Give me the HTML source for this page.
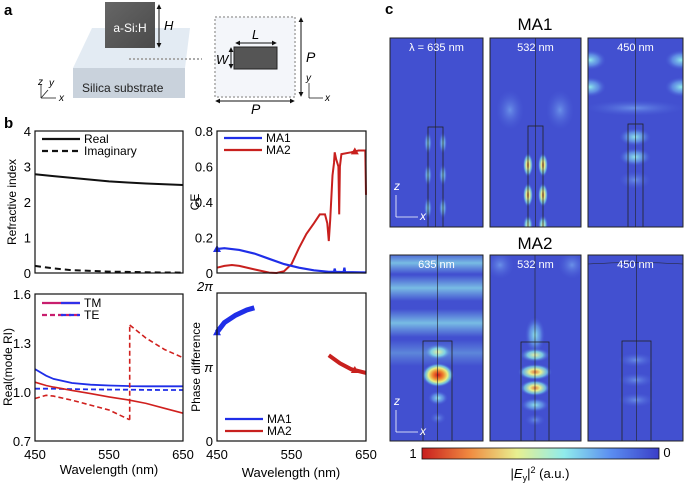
<!DOCTYPE html>
<html><head><meta charset="utf-8"><style>
html,body{margin:0;padding:0;background:#fff;width:685px;height:485px;overflow:hidden}
svg{display:block;font-family:"Liberation Sans",Arial,sans-serif}
</style></head><body>
<svg id="fig" width="685" height="485" viewBox="0 0 685 485">
<defs>
<radialGradient id="gHot"><stop offset="0" stop-color="#d0181c"/><stop offset="0.35" stop-color="#f08a30"/><stop offset="0.6" stop-color="#e8f080"/><stop offset="0.8" stop-color="#7fe6e6" stop-opacity="0.7"/><stop offset="1" stop-color="#4a5ed8" stop-opacity="0"/></radialGradient>
<radialGradient id="gMid"><stop offset="0" stop-color="#e87a3a"/><stop offset="0.35" stop-color="#e8f090"/><stop offset="0.7" stop-color="#80e0e8" stop-opacity="0.7"/><stop offset="1" stop-color="#4a5ed8" stop-opacity="0"/></radialGradient>
<radialGradient id="gWarm"><stop offset="0" stop-color="#e8f0a0"/><stop offset="0.5" stop-color="#88e6e6" stop-opacity="0.8"/><stop offset="1" stop-color="#4a5ed8" stop-opacity="0"/></radialGradient>
<radialGradient id="gCool"><stop offset="0" stop-color="#90e8ec"/><stop offset="0.55" stop-color="#70b0ee" stop-opacity="0.6"/><stop offset="1" stop-color="#4a5ed8" stop-opacity="0"/></radialGradient>
<radialGradient id="gFaint"><stop offset="0" stop-color="#6a90e8"/><stop offset="1" stop-color="#4a5ed8" stop-opacity="0"/></radialGradient>
<linearGradient id="gBand" x1="0" y1="0" x2="0" y2="1"><stop offset="0" stop-color="#8ad8ee" stop-opacity="0"/><stop offset="0.5" stop-color="#8ae0ea" stop-opacity="0.75"/><stop offset="1" stop-color="#8ad8ee" stop-opacity="0"/></linearGradient>
<linearGradient id="gCbar" x1="0" y1="0" x2="1" y2="0"><stop offset="0" stop-color="#c81e1e"/><stop offset="0.2" stop-color="#f08a40"/><stop offset="0.4" stop-color="#e8f090"/><stop offset="0.6" stop-color="#90ecec"/><stop offset="0.8" stop-color="#5a8cf0"/><stop offset="1" stop-color="#3a3ec8"/></linearGradient>
<linearGradient id="gCube" x1="0" y1="0" x2="1" y2="1"><stop offset="0" stop-color="#666"/><stop offset="1" stop-color="#4a4a4a"/></linearGradient>
<marker id="ah" viewBox="0 0 6 6" refX="5" refY="3" markerWidth="5" markerHeight="5" orient="auto-start-reverse"><path d="M0,0L6,3L0,6z" fill="#111"/></marker>
</defs>

<g>
<text x="4" y="15" font-size="15" font-weight="bold">a</text>
<path d="M73,68 L185,68 L185,98 L73,98 Z" fill="#c9d2dc"/>
<path d="M73,68 L92,28 L190,28 L185,68 Z" fill="#e3ebf3"/>
<rect x="105" y="2" width="50" height="46" fill="url(#gCube)"/>
<text x="130" y="32" font-size="12" fill="#fff" text-anchor="middle">a-Si:H</text>
<line x1="159" y1="5" x2="159" y2="47" stroke="#111" stroke-width="1" marker-start="url(#ah)" marker-end="url(#ah)"/>
<text x="164" y="30" font-size="13" font-style="italic">H</text>
<text x="82" y="92" font-size="12" fill="#222">Silica substrate</text>
<line x1="129" y1="59" x2="202" y2="59" stroke="#aaa" stroke-width="2" stroke-dasharray="2,2"/>
<g stroke="#222" stroke-width="0.8" fill="none">
<line x1="41" y1="98" x2="41" y2="84"/><line x1="41" y1="98" x2="56" y2="98"/><line x1="41" y1="98" x2="48" y2="90"/></g>
<text x="38" y="85" font-size="10" font-style="italic">z</text><text x="49" y="86" font-size="10" font-style="italic">y</text><text x="59" y="101" font-size="10" font-style="italic">x</text>
<rect x="215" y="17" width="80" height="80" fill="#f4f6fa" stroke="#bbb" stroke-width="2" stroke-dasharray="2,2"/>
<rect x="234" y="47" width="43" height="22" fill="#555" stroke="#222"/>
<line x1="236" y1="43" x2="276" y2="43" stroke="#111" marker-start="url(#ah)" marker-end="url(#ah)"/>
<text x="252" y="39" font-size="13" font-style="italic">L</text>
<line x1="231" y1="48" x2="231" y2="68" stroke="#111" marker-start="url(#ah)" marker-end="url(#ah)"/>
<text x="216" y="64" font-size="13" font-style="italic">W</text>
<line x1="301" y1="18" x2="301" y2="96" stroke="#111" marker-start="url(#ah)" marker-end="url(#ah)"/>
<text x="306" y="62" font-size="14" font-style="italic">P</text>
<line x1="216" y1="101" x2="294" y2="101" stroke="#111" marker-start="url(#ah)" marker-end="url(#ah)"/>
<text x="251" y="114" font-size="14" font-style="italic">P</text>
<line x1="309" y1="98" x2="309" y2="83" stroke="#222" stroke-width="0.8"/><line x1="309" y1="98" x2="323" y2="98" stroke="#222" stroke-width="0.8"/>
<text x="306" y="81" font-size="10" font-style="italic">y</text><text x="325" y="101" font-size="10" font-style="italic">x</text>
</g>

<text x="4" y="128" font-size="15" font-weight="bold">b</text>
<text x="385" y="14" font-size="15" font-weight="bold">c</text>

<g id="charts"></g>
<g id="maps"></g>
</svg>
<script>
const NS="http://www.w3.org/2000/svg";
const wl1=[450,475,500,525,550,575,600,625,650];
const realRI=[2.78,2.73,2.68,2.63,2.58,2.55,2.52,2.5,2.48];
const imagRI=[0.2,0.13,0.08,0.06,0.04,0.03,0.02,0.015,0.01];
const wlCE1=[450,460,480,500,520,540,560,580,600,607,608,609,620,621,622,650];
const ceMA1=[0.135,0.14,0.13,0.11,0.08,0.05,0.03,0.015,0.007,0.006,0.025,0.006,0.005,0.03,0.005,0.003];
const wlCE2=[450,460,470,480,500,520,530,540,550,560,570,580,588,595,598,600,602,605,607,608,610,613,614,615,617,630,640,649,650];
const ceMA2=[0.03,0.04,0.045,0.04,0.02,0.002,0,0.01,0.05,0.14,0.22,0.28,0.33,0.33,0.28,0.18,0.3,0.55,0.62,0.68,0.64,0.6,0.33,0.6,0.67,0.68,0.69,0.69,0.44];
const wlM=[450,465,475,500,525,550,575,578,600,625,650];
const tmBlue=[1.14,1.1,1.08,1.055,1.045,1.04,1.037,1.036,1.035,1.035,1.035];
const teBlue=[1.02,1.02,1.02,1.018,1.016,1.015,1.014,1.014,1.013,1.012,1.012];
const tmRed=[1.06,1.04,1.03,1.01,0.99,0.97,0.952,0.95,0.93,0.9,0.87];
const wlTE1=[450,465,475,500,525,550,578];
const teRed1=[0.96,0.98,0.975,0.95,0.92,0.89,0.83];
const wlTE2=[578,600,625,650];
const teRed2=[1.41,1.33,1.26,1.21];
const wlP1=[450,460,475,490,500];
const phMA1=[1.47,1.6,1.7,1.77,1.8];
const wlP2=[600,615,630,650];
const phMA2=[1.16,1.05,0.97,0.92];
const xTicks=[450,550,650];

const root=document.getElementById('charts');
function el(tag,attrs,parent){const e=document.createElementNS(NS,tag);for(const k in attrs)e.setAttribute(k,attrs[k]);(parent||root).appendChild(e);return e;}
function txt(x,y,s,attrs,parent){const t=el('text',Object.assign({x:x,y:y,'font-size':13},attrs||{}),parent);t.textContent=s;return t;}
function makeAxes(x0,x1,y0,y1,ymin,ymax){
  return {sx:v=>x0+(v-450)/200*(x1-x0), sy:v=>y1-(v-ymin)/(ymax-ymin)*(y1-y0), x0,x1,y0,y1};
}
function line(ax,xs,ys,color,w,dash,name){
  let d=xs.map((x,i)=>(i?'L':'M')+ax.sx(x).toFixed(1)+','+ax.sy(ys[i]).toFixed(1)).join('');
  const p=el('path',{d:d,fill:'none',stroke:color,'stroke-width':w,'stroke-dasharray':dash||'none'});
  
  
  return p;
}
function tri(ax,x,y,color,name){
  const cx=ax.sx(x),cy=ax.sy(y);
  const p=el('path',{d:`M${cx-4},${cy+3}L${cx+4},${cy+3}L${cx},${cy-4}Z`,fill:color});
  
  
}
function frame(ax,name){const r=el('rect',{x:ax.x0,y:ax.y0,width:ax.x1-ax.x0,height:ax.y1-ax.y0,fill:'none',stroke:'#111','stroke-width':1.2});}
function yTicks(ax,vals,labels,name){vals.forEach((v,i)=>{const t=txt(ax.x0-4,ax.sy(v)+5,labels[i],{'text-anchor':'end','font-size':13});});}
function xTickLabels(ax,name){xTicks.forEach(v=>{const t=txt(ax.sx(v),459,String(v),{'text-anchor':'middle','font-size':13});});}
function legend(x,y,items,name){items.forEach((it,i)=>{
  el('line',{x1:x,y1:y+i*12,x2:x+38,y2:y+i*12,stroke:it.c,'stroke-width':2.2,'stroke-dasharray':it.d||'none'});
  if(it.c2) el('line',{x1:x+19,y1:y+i*12,x2:x+38,y2:y+i*12,stroke:it.c2,'stroke-width':2.2,'stroke-dasharray':it.d||'none'});
  const t=txt(x+42,y+i*12+4,it.t,{'font-size':12});});}

const A1=makeAxes(35,183,131,273,0,4);
yTicks(A1,[0,1,2,3,4],['0','1','2','3','4'],'ri-y-tick');
line(A1,wl1,realRI,'#111',2,null,'real-index-line');
line(A1,wl1,imagRI,'#111',2,'6,4','imag-index-line');
frame(A1,'ri-plot-frame');
legend(42,139,[{c:'#111',t:'Real'},{c:'#111',d:'6,4',t:'Imaginary'}],'ri-legend');
txt(16,202,'Refractive index',{transform:'rotate(-90 16 202)','text-anchor':'middle','font-size':12,});

const A2=makeAxes(217,366,131,273,0,0.8);
yTicks(A2,[0,0.2,0.4,0.6,0.8],['0','0.2','0.4','0.6','0.8'],'ce-y-tick');
line(A2,wlCE2,ceMA2,'#c8201e',2,null,'ce-ma2-line');
line(A2,wlCE1,ceMA1,'#1f2ee8',2.2,null,'ce-ma1-line');
tri(A2,450,0.135,'#1f2ee8','ce-ma1-marker');
tri(A2,635,0.685,'#c8201e','ce-ma2-marker');
frame(A2,'ce-plot-frame');
legend(224,138,[{c:'#1f2ee8',t:'MA1'},{c:'#c8201e',t:'MA2'}],'ce-legend');
txt(199,202,'CE',{transform:'rotate(-90 199 202)','text-anchor':'middle','font-size':12,});

const A3=makeAxes(35,183,294,441,0.7,1.6);
yTicks(A3,[0.7,1.0,1.3,1.6],['0.7','1.0','1.3','1.6'],'mode-y-tick');
line(A3,wlM,tmBlue,'#1f2ee8',1.8,null,'tm-blue-line');
line(A3,wlM,teBlue,'#1f2ee8',1.8,'5,3','te-blue-line');
line(A3,wlM,tmRed,'#d0201e',1.6,null,'tm-red-line');
line(A3,wlTE1,teRed1,'#d0201e',1.6,'5,3','te-red-line-1');
line(A3,[578,578],[0.83,1.41],'#d0201e',1.6,'5,3','te-red-jump');
line(A3,wlTE2,teRed2,'#d0201e',1.6,'5,3','te-red-line-2');
frame(A3,'mode-plot-frame');
legend(42,303,[{c:'#c81e6e',c2:'#3030e8',t:'TM'},{c:'#c81e6e',c2:'#3030e8',d:'5,3',t:'TE'}],'mode-legend');
txt(12,367,'Real(mode RI)',{transform:'rotate(-90 12 367)','text-anchor':'middle','font-size':12,});
xTickLabels(A3,'mode-x-tick');
txt(109,474,'Wavelength (nm)',{'text-anchor':'middle','font-size':13,});

const A4=makeAxes(217,366,293,441,0,2);
[[0,'0'],[1,'π'],[2,'2π']].forEach(p=>{const t=txt(A4.x0-4,A4.sy(p[0])+(p[0]==2?-2:5),p[1],{'text-anchor':'end','font-size':13,'font-style':p[0]?'italic':'normal'});});
line(A4,wlP1,phMA1,'#1f2ee8',5,null,'phase-ma1-line');
line(A4,wlP2,phMA2,'#c8201e',4,null,'phase-ma2-line');
tri(A4,450,1.47,'#1f2ee8','phase-ma1-marker');
tri(A4,635,0.96,'#c8201e','phase-ma2-marker');
frame(A4,'phase-plot-frame');
legend(225,419,[{c:'#1f2ee8',t:'MA1'},{c:'#c8201e',t:'MA2'}],'phase-legend');
txt(200,367,'Phase difference',{transform:'rotate(-90 200 367)','text-anchor':'middle','font-size':12,});
xTickLabels(A4,'phase-x-tick');
txt(291,477,'Wavelength (nm)',{'text-anchor':'middle','font-size':13,});

const M=document.getElementById('maps');
function m(tag,a,p){return el(tag,a,p||M);}
function blob(p,cx,cy,rx,ry,g){m('ellipse',{cx,cy,rx,ry,fill:`url(#${g})`},p);}
const BG='#4250d0';
function panel(name,x0,y0,x1,y1,label,px0,px1,py,draw,sub){
  const g=m('g',{});
  const cp='c'+name;const c=m('clipPath',{id:cp},g);m('rect',{x:x0,y:y0,width:x1-x0,height:y1-y0},c);
  const inner=m('g',{'clip-path':`url(#${cp})`},g);
  m('rect',{x:x0,y:y0,width:x1-x0,height:y1-y0,fill:BG},inner);
  draw(inner);
  if(sub) m('path',{d:`M${x0},${y0+9}Q${(x0+x1)/2},${y0+6} ${x1},${y0+9}`,fill:'none',stroke:'#222','stroke-width':0.6},inner);
  m('rect',{x:px0,y:py,width:px1-px0,height:y1-py,fill:'none',stroke:'#222','stroke-width':0.8},g);
  m('line',{x1:(px0+px1)/2,y1:y0,x2:(px0+px1)/2,y2:y1,stroke:'#222','stroke-width':0.6},g);
  m('rect',{x:x0,y:y0,width:x1-x0,height:y1-y0,fill:'none',stroke:'#222','stroke-width':1},g);
  const t=txt((x0+x1)/2,y0+13,label,{'text-anchor':'middle','font-size':11,fill:'#fff'},g);
  
}
txt(535,30,'MA1',{'text-anchor':'middle','font-size':17,},M);
txt(535,249,'MA2',{'text-anchor':'middle','font-size':17,},M);
panel('map-ma1-635',390,38,483,227,'λ = 635 nm',428,443,127,g=>{
  [143,175,208].forEach(y=>{blob(g,428,y,4,11,'gCool');blob(g,443,y,4,11,'gCool');});});
panel('map-ma1-532',490,38,581,227,'532 nm',528,543,126,g=>{
  blob(g,510,110,14,20,'gFaint');blob(g,560,110,14,20,'gFaint');
  [165,195].forEach(y=>{blob(g,528,y,5,12,'gMid');blob(g,543,y,5,12,'gMid');});
  blob(g,528,225,5,10,'gWarm');blob(g,543,225,5,10,'gWarm');});
panel('map-ma1-450',588,38,683,227,'450 nm',628,643,124,g=>{
  [60,87].forEach(y=>{blob(g,590,y,16,10,'gCool');blob(g,681,y,16,10,'gCool');});
  blob(g,635,108,50,8,'gFaint');
  [137,157,180].forEach((y,i)=>blob(g,635,y,16,9,i<2?'gCool':'gFaint'));});
panel('map-ma2-635',390,255,483,441,'635 nm',423,452,341,g=>{
  m('rect',{x:390,y:252,width:93,height:22,fill:'url(#gBand)'},g);
  m('rect',{x:390,y:275,width:93,height:26,fill:'url(#gBand)'},g);
  m('rect',{x:390,y:309,width:93,height:28,fill:'url(#gBand)'},g);
  m('rect',{x:390,y:340,width:93,height:26,fill:'url(#gBand)',opacity:0.5},g);
  blob(g,438,352,14,8,'gWarm');blob(g,438,375,16,12,'gHot');blob(g,438,398,10,7,'gCool');blob(g,438,418,8,6,'gFaint');});
panel('map-ma2-532',490,255,581,441,'532 nm',521,549,342,g=>{
  blob(g,500,265,14,14,'gFaint');blob(g,572,265,14,14,'gFaint');
  blob(g,535,335,10,18,'gCool');
  blob(g,535,355,15,7,'gWarm');blob(g,535,372,17,8,'gMid');blob(g,535,388,15,8,'gMid');blob(g,535,405,14,7,'gCool');blob(g,535,420,10,6,'gFaint');});
panel('map-ma2-450',588,255,683,441,'450 nm',622,651,341,g=>{
  [360,380,400].forEach(y=>blob(g,636,y,18,7,'gFaint'));},true);
[[396,217],[396,432]].forEach((p,i)=>{
  const g=m('g',{stroke:'#fff','stroke-width':0.8,fill:'none'});
  
  m('line',{x1:p[0],y1:p[1],x2:p[0],y2:p[1]-22},g);m('line',{x1:p[0],y1:p[1],x2:p[0]+22,y2:p[1]},g);
  txt(p[0]-2,p[1]-27,'z',{fill:'#fff','font-size':12,'font-style':'italic'},M);
  txt(p[0]+24,p[1]+3,'x',{fill:'#fff','font-size':12,'font-style':'italic'},M);
});
const cb=m('rect',{x:422,y:448,width:237,height:11,fill:'url(#gCbar)',stroke:'#111','stroke-width':0.8});

txt(413,458,'1',{'text-anchor':'middle','font-size':13,},M);
txt(667,457,'0',{'text-anchor':'middle','font-size':13,},M);
const cl=txt(540,478,'',{'text-anchor':'middle','font-size':13,},M);
cl.innerHTML='|<tspan font-style="italic">E</tspan><tspan font-size="9" dy="3">y</tspan><tspan dy="-3">|</tspan><tspan font-size="9" dy="-5">2</tspan><tspan dy="5"> (a.u.)</tspan>';
</script>
</body></html>
